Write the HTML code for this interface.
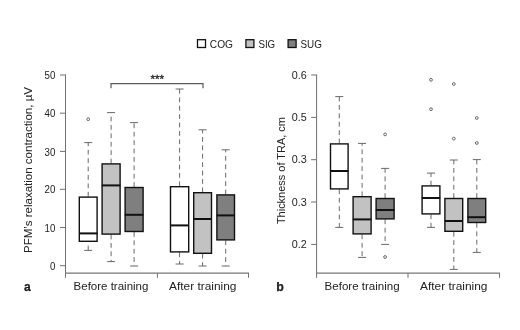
<!DOCTYPE html><html><head><meta charset="utf-8"><title>Figure</title><style>html,body{margin:0;padding:0;background:#fff}svg{display:block;will-change:transform}text{font-family:"Liberation Sans",sans-serif;fill:#222222}</style></head><body>
<svg width="520" height="330" viewBox="0 0 520 330">
<rect width="520" height="330" fill="#fff"/>
<rect x="197.5" y="39.7" width="8" height="7.8" fill="#ffffff" stroke="#111" stroke-width="1.3"/>
<text x="209.8" y="47.5" font-size="11.5" text-anchor="start" textLength="23.2" lengthAdjust="spacingAndGlyphs">COG</text>
<rect x="245.9" y="39.7" width="8" height="7.8" fill="#c2c2c2" stroke="#111" stroke-width="1.3"/>
<text x="258.4" y="47.5" font-size="11.5" text-anchor="start" textLength="16.8" lengthAdjust="spacingAndGlyphs">SIG</text>
<rect x="288.1" y="39.7" width="8" height="7.8" fill="#7f7f7f" stroke="#111" stroke-width="1.3"/>
<text x="300.5" y="47.5" font-size="11.5" text-anchor="start" textLength="21.4" lengthAdjust="spacingAndGlyphs">SUG</text>
<g stroke="#707070" stroke-width="1" fill="none">
<path d="M65.5 74.5V277.8M157.4 273V277.8M248.5 273V277.8"/>
<path d="M65.0 273H249.0" stroke-width="1.25" stroke="#767676"/>
<path d="M60.0 75.0H65.5"/>
<path d="M60.0 113.2H65.5"/>
<path d="M60.0 151.4H65.5"/>
<path d="M60.0 189.3H65.5"/>
<path d="M60.0 227.5H65.5"/>
<path d="M60.0 265.7H65.5"/>
</g>
<text x="44.5" y="79.1" font-size="11.5" text-anchor="start" textLength="10.8" lengthAdjust="spacingAndGlyphs">50</text>
<text x="44.5" y="117.3" font-size="11.5" text-anchor="start" textLength="10.8" lengthAdjust="spacingAndGlyphs">40</text>
<text x="44.5" y="155.5" font-size="11.5" text-anchor="start" textLength="10.8" lengthAdjust="spacingAndGlyphs">30</text>
<text x="44.5" y="193.4" font-size="11.5" text-anchor="start" textLength="10.8" lengthAdjust="spacingAndGlyphs">20</text>
<text x="44.5" y="231.6" font-size="11.5" text-anchor="start" textLength="10.8" lengthAdjust="spacingAndGlyphs">10</text>
<text x="49.9" y="269.8" font-size="11.5" text-anchor="start" textLength="5.4" lengthAdjust="spacingAndGlyphs">0</text>
<g stroke="#707070" stroke-width="1" fill="none">
<path d="M316.6 74.5V277.8M408.0 273V277.8M499.5 273V277.8"/>
<path d="M316.1 273H500.0" stroke-width="1.25" stroke="#767676"/>
<path d="M311.1 75.0H316.6"/>
<path d="M311.1 117.4H316.6"/>
<path d="M311.1 159.7H316.6"/>
<path d="M311.1 202.0H316.6"/>
<path d="M311.1 244.4H316.6"/>
</g>
<text x="291.7" y="78.7" font-size="11.5" text-anchor="start" textLength="15.0" lengthAdjust="spacingAndGlyphs">0.6</text>
<text x="291.7" y="121.1" font-size="11.5" text-anchor="start" textLength="15.0" lengthAdjust="spacingAndGlyphs">0.5</text>
<text x="291.7" y="163.4" font-size="11.5" text-anchor="start" textLength="15.0" lengthAdjust="spacingAndGlyphs">0.3</text>
<text x="291.7" y="205.7" font-size="11.5" text-anchor="start" textLength="15.0" lengthAdjust="spacingAndGlyphs">0.3</text>
<text x="291.7" y="248.1" font-size="11.5" text-anchor="start" textLength="15.0" lengthAdjust="spacingAndGlyphs">0.2</text>
<g stroke="#686868" stroke-width="1" fill="none">
<path d="M88.2 196.6V142.6" stroke-dasharray="4.8 3.6"/>
<path d="M88.2 250.4V241.8" stroke-dasharray="4.8 3.6"/>
<path d="M84.2 142.6H92.2M84.2 250.4H92.2"/>
<circle cx="88.2" cy="119.2" r="1.4"/>
</g>
<rect x="79.3" y="197.1" width="17.8" height="44.2" fill="#ffffff" stroke="#111" stroke-width="1.4"/>
<path d="M79.0 233.4H97.4" stroke="#111" stroke-width="2"/>
<g stroke="#686868" stroke-width="1" fill="none">
<path d="M111.1 163.4V112.6" stroke-dasharray="4.8 3.6"/>
<path d="M111.1 234.6V261.6" stroke-dasharray="4.8 3.6"/>
<path d="M107.1 112.6H115.1M107.1 261.6H115.1"/>
</g>
<rect x="102.1" y="163.9" width="18.0" height="70.2" fill="#c2c2c2" stroke="#111" stroke-width="1.4"/>
<path d="M101.8 185.4H120.4" stroke="#111" stroke-width="2"/>
<g stroke="#686868" stroke-width="1" fill="none">
<path d="M134.1 187.0V122.6" stroke-dasharray="4.8 3.6"/>
<path d="M134.1 232.0V266.0" stroke-dasharray="4.8 3.6"/>
<path d="M130.1 122.6H138.1M130.1 266.0H138.1"/>
</g>
<rect x="125.1" y="187.5" width="18.0" height="44.0" fill="#7f7f7f" stroke="#111" stroke-width="1.4"/>
<path d="M124.8 214.8H143.4" stroke="#111" stroke-width="2"/>
<g stroke="#686868" stroke-width="1" fill="none">
<path d="M179.6 186.2V89.0" stroke-dasharray="4.8 3.6"/>
<path d="M179.6 252.4V264.0" stroke-dasharray="4.8 3.6"/>
<path d="M175.6 89.0H183.6M175.6 264.0H183.6"/>
</g>
<rect x="170.5" y="186.7" width="18.2" height="65.2" fill="#ffffff" stroke="#111" stroke-width="1.4"/>
<path d="M170.2 225.4H189.0" stroke="#111" stroke-width="2"/>
<g stroke="#686868" stroke-width="1" fill="none">
<path d="M202.6 192.2V129.8" stroke-dasharray="4.8 3.6"/>
<path d="M202.6 253.8V266.0" stroke-dasharray="4.8 3.6"/>
<path d="M198.6 129.8H206.6M198.6 266.0H206.6"/>
</g>
<rect x="193.7" y="192.7" width="17.8" height="60.6" fill="#c2c2c2" stroke="#111" stroke-width="1.4"/>
<path d="M193.4 219.0H211.8" stroke="#111" stroke-width="2"/>
<g stroke="#686868" stroke-width="1" fill="none">
<path d="M225.7 194.4V149.8" stroke-dasharray="4.8 3.6"/>
<path d="M225.7 240.4V266.0" stroke-dasharray="4.8 3.6"/>
<path d="M221.7 149.8H229.7M221.7 266.0H229.7"/>
</g>
<rect x="216.9" y="194.9" width="17.6" height="45.0" fill="#7f7f7f" stroke="#111" stroke-width="1.4"/>
<path d="M216.6 215.4H234.8" stroke="#111" stroke-width="2"/>
<g stroke="#686868" stroke-width="1" fill="none">
<path d="M339.3 143.4V96.6" stroke-dasharray="4.8 3.6"/>
<path d="M339.3 189.4V227.4" stroke-dasharray="4.8 3.6"/>
<path d="M335.3 96.6H343.3M335.3 227.4H343.3"/>
</g>
<rect x="330.5" y="143.9" width="17.6" height="45.0" fill="#ffffff" stroke="#111" stroke-width="1.4"/>
<path d="M330.2 171.0H348.4" stroke="#111" stroke-width="2"/>
<g stroke="#686868" stroke-width="1" fill="none">
<path d="M362.1 196.2V143.4" stroke-dasharray="4.8 3.6"/>
<path d="M362.1 234.4V257.4" stroke-dasharray="4.8 3.6"/>
<path d="M358.1 143.4H366.1M358.1 257.4H366.1"/>
</g>
<rect x="353.1" y="196.7" width="18.0" height="37.2" fill="#c2c2c2" stroke="#111" stroke-width="1.4"/>
<path d="M352.8 219.4H371.4" stroke="#111" stroke-width="2"/>
<g stroke="#686868" stroke-width="1" fill="none">
<path d="M385.1 198.0V168.4" stroke-dasharray="4.8 3.6"/>
<path d="M385.1 219.4V244.4" stroke-dasharray="4.8 3.6"/>
<path d="M381.1 168.4H389.1M381.1 244.4H389.1"/>
<circle cx="385.1" cy="134.4" r="1.4"/>
<circle cx="385.1" cy="257.0" r="1.4"/>
</g>
<rect x="376.1" y="198.5" width="18.0" height="20.4" fill="#7f7f7f" stroke="#111" stroke-width="1.4"/>
<path d="M375.8 210.0H394.4" stroke="#111" stroke-width="2"/>
<g stroke="#686868" stroke-width="1" fill="none">
<path d="M431.0 185.4V173.1" stroke-dasharray="4.8 3.6"/>
<path d="M431.0 214.4V227.4" stroke-dasharray="4.8 3.6"/>
<path d="M427.0 173.1H435.0M427.0 227.4H435.0"/>
<circle cx="431.0" cy="79.8" r="1.4"/>
<circle cx="431.0" cy="109.2" r="1.4"/>
</g>
<rect x="422.1" y="185.9" width="17.8" height="28.0" fill="#ffffff" stroke="#111" stroke-width="1.4"/>
<path d="M421.8 198.0H440.2" stroke="#111" stroke-width="2"/>
<g stroke="#686868" stroke-width="1" fill="none">
<path d="M453.8 198.0V160.0" stroke-dasharray="4.8 3.6"/>
<path d="M453.8 231.8V269.4" stroke-dasharray="4.8 3.6"/>
<path d="M449.8 160.0H457.8M449.8 269.4H457.8"/>
<circle cx="453.8" cy="84.0" r="1.4"/>
<circle cx="453.8" cy="138.6" r="1.4"/>
</g>
<rect x="444.9" y="198.5" width="17.8" height="32.8" fill="#c2c2c2" stroke="#111" stroke-width="1.4"/>
<path d="M444.6 221.0H463.0" stroke="#111" stroke-width="2"/>
<g stroke="#686868" stroke-width="1" fill="none">
<path d="M476.8 198.0V159.6" stroke-dasharray="4.8 3.6"/>
<path d="M476.8 223.0V252.4" stroke-dasharray="4.8 3.6"/>
<path d="M472.8 159.6H480.8M472.8 252.4H480.8"/>
<circle cx="476.8" cy="118.0" r="1.4"/>
<circle cx="476.8" cy="143.0" r="1.4"/>
</g>
<rect x="467.9" y="198.5" width="17.8" height="24.0" fill="#7f7f7f" stroke="#111" stroke-width="1.4"/>
<path d="M467.6 217.2H486.0" stroke="#111" stroke-width="2"/>
<path d="M111 88.3V83.6H203V88.3" stroke="#5c5c5c" stroke-width="1.2" fill="none"/>
<text x="157.3" y="83.0" font-size="11" text-anchor="middle" textLength="13.6" lengthAdjust="spacingAndGlyphs" stroke="#222" stroke-width="0.3">***</text>
<text x="73.6" y="290.2" font-size="11.5" text-anchor="start" textLength="74.8" lengthAdjust="spacingAndGlyphs">Before training</text>
<text x="169.0" y="290.2" font-size="11.5" text-anchor="start" textLength="67.4" lengthAdjust="spacingAndGlyphs">After training</text>
<text x="324.6" y="290.2" font-size="11.5" text-anchor="start" textLength="75.0" lengthAdjust="spacingAndGlyphs">Before training</text>
<text x="420.0" y="290.2" font-size="11.5" text-anchor="start" textLength="67.4" lengthAdjust="spacingAndGlyphs">After training</text>
<text x="24.0" y="290.5" font-size="12" text-anchor="start" font-weight="bold" stroke="#111" stroke-width="0.25" fill="#111">a</text>
<text x="276.3" y="290.5" font-size="13.4" text-anchor="start" textLength="7.6" lengthAdjust="spacingAndGlyphs" font-weight="bold" stroke="#111" stroke-width="0.25" fill="#111">b</text>
<text transform="translate(32.2 170) rotate(-90)" font-size="11.5" text-anchor="middle" textLength="166" lengthAdjust="spacingAndGlyphs">PFM’s relaxation contraction, µV</text>
<text transform="translate(284.6 170.6) rotate(-90)" font-size="11.5" text-anchor="middle" textLength="107" lengthAdjust="spacingAndGlyphs">Thickness of TRA, cm</text>
</svg></body></html>
